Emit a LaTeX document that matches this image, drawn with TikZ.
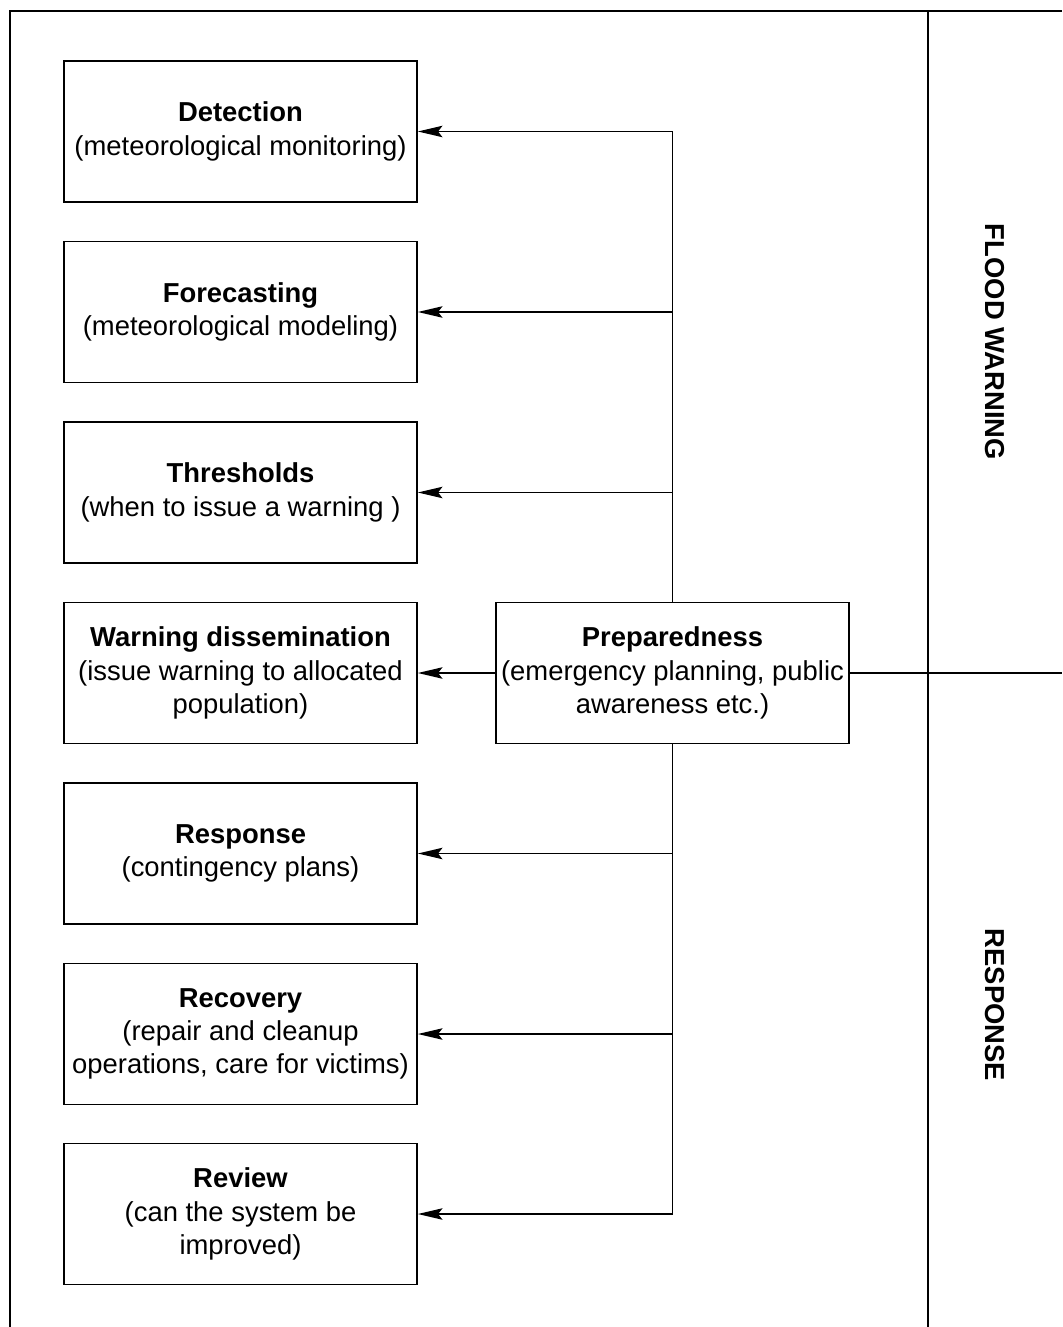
\documentclass[tikz,border=0pt]{standalone}
\usepackage{fontspec}
\setmainfont{Liberation Sans}
\usepackage{tikz}
\usetikzlibrary{arrows.meta}

\begin{document}
\begin{tikzpicture}[x=0.02cm,y=-0.02cm]
	\tikzstyle{stage}=[rectangle,draw,line width=1pt,minimum width=7.06cm,minimum height=2.82cm,align=center,inner sep=0pt,font=\fontsize{15.6}{18.9}\selectfont]
	\tikzstyle{side}=[rotate=-90,font=\fontsize{15.6}{18.9}\selectfont\bfseries]
	\tikzstyle{frame}=[line width=1pt]
	\tikzstyle{link}=[line width=0.9pt,-{Stealth[length=14pt,width=6.5pt,inset=2.5pt]}]
	\useasboundingbox (0,0) rectangle (1062,1327);
	\draw[frame] (1062,11) -- (10,11) -- (10,1327);
	\draw[frame] (928,11) -- (928,1327);
	\node[stage] (det) at (240.5,131.5){\textbf{Detection}\\(meteorological monitoring)};
	\node[stage] (fore) at (240.5,312){\textbf{Forecasting}\\(meteorological modeling)};
	\node[stage] (thr) at (240.5,492.5){\textbf{Thresholds}\\(when to issue a warning )};
	\node[stage] (warn) at (240.5,673){\textbf{Warning dissemination}\\(issue warning to allocated\\population)};
	\node[stage] (resp) at (240.5,853.5){\textbf{Response}\\(contingency plans)};
	\node[stage] (rec) at (240.5,1034){\textbf{Recovery}\\(repair and cleanup\\operations, care for victims)};
	\node[stage] (rev) at (240.5,1214){\textbf{Review}\\(can the system be\\improved)};
	\node[stage] (prep) at (672.5,673){\textbf{Preparedness}\\(emergency planning, public\\awareness etc.)};
	\node[side] (fw) at (995,342){FLOOD WARNING};
	\node[side] (rs) at (995,1005){RESPONSE};
	\coordinate (edge) at (1062,673);
	\draw[link] (prep.north) |- (det.east);
	\draw[link] (prep.north) |- (fore.east);
	\draw[link] (prep.north) |- (thr.east);
	\draw[link] (prep.west) -- (warn.east);
	\draw[link] (prep.south) |- (resp.east);
	\draw[link] (prep.south) |- (rec.east);
	\draw[link] (prep.south) |- (rev.east);
	\draw[frame] (prep.east) -- (edge);
\end{tikzpicture}
\end{document}
